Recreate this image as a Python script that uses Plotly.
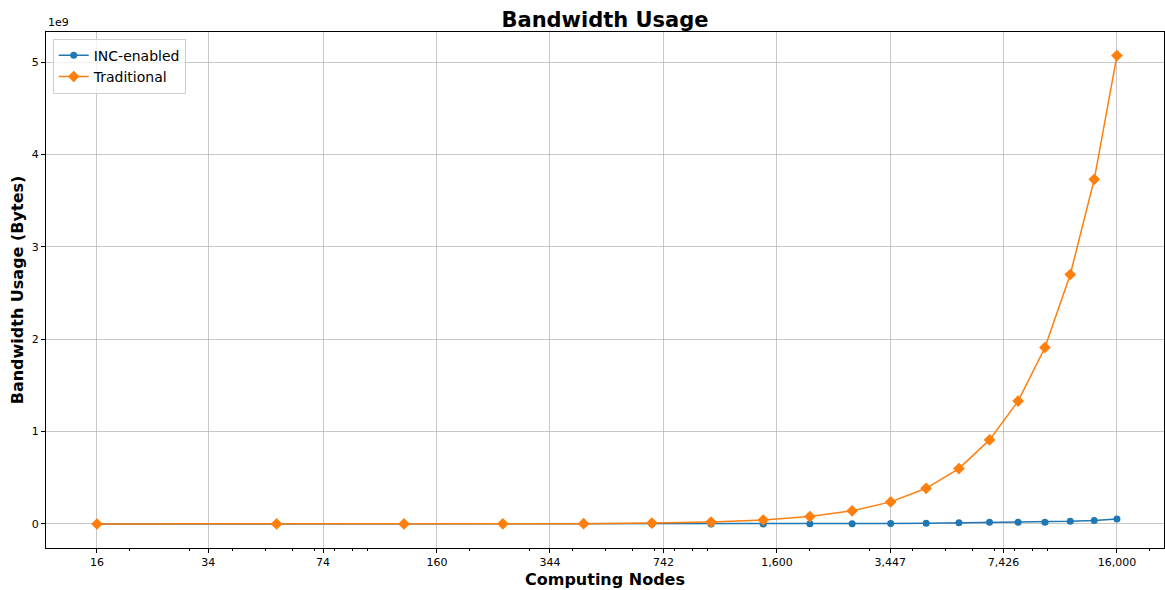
import plotly.graph_objects as go

nodes = [16, 54, 128, 250, 432, 686, 1024, 1458, 2000, 2662, 3456, 4394,
         5488, 6750, 8192, 9826, 11664, 13718, 16000]
inc_enabled = [3e2, 1.5e3, 8e3, 3e4, 9e4, 2.5e5, 5.5e5, 1.1e6, 2e6, 3.5e6, 5.5e6, 8.5e6,
               1.25e7, 1.8e7, 2.0e7, 2.0e7, 2.9e7, 3.9e7, 5.4e7]
traditional = [0.0, 0.06e6, 0.33e6, 1.25e6, 3.7e6, 9.4e6, 2.1e7, 4.3e7, 8.0e7, 1.42e8, 2.39e8,
               3.86e8, 6.0e8, 9.1e8, 1.33e9, 1.91e9, 2.70e9, 3.73e9, 5.07e9]

x_tickvals = [16, 34, 74, 160, 344, 742, 1600, 3447, 7426, 16000]
x_ticktext = ["16", "34", "74", "160", "344", "742", "1,600", "3,447", "7,426", "16,000"]
y_tickvals = [0, 1e9, 2e9, 3e9, 4e9, 5e9]
y_ticktext = ["0", "1", "2", "3", "4", "5"]

minor_vals = []
for dec in [10, 100, 1000, 10000]:
    for m in range(1, 10):
        v = m * dec
        if 11 < v < 22000:
            minor_vals.append(v)

font_family = "DejaVu Sans"
grid_col = "rgba(176,176,176,0.7)"

fig = go.Figure()
fig.add_trace(go.Scatter(
    x=nodes, y=inc_enabled, mode="lines+markers", name="INC-enabled",
    line=dict(color="#1f77b4", width=1.5),
    marker=dict(symbol="circle", size=7, color="#1f77b4"),
))
fig.add_trace(go.Scatter(
    x=nodes, y=traditional, mode="lines+markers", name="Traditional",
    line=dict(color="#ff7f0e", width=1.5),
    marker=dict(symbol="diamond", size=9, color="#ff7f0e"),
))

fig.update_layout(
    width=1165, height=590,
    margin=dict(l=46, r=1, t=32, b=42, autoexpand=False),
    paper_bgcolor="white", plot_bgcolor="white",
    font=dict(family=font_family, size=11, color="black"),
    title=dict(text="<b>Bandwidth Usage</b>", x=0.5, xref="paper", xanchor="center",
               y=1, yref="paper", yanchor="bottom", pad=dict(b=5),
               font=dict(size=21, family=font_family), automargin=False),
    showlegend=True,
    legend=dict(x=0.006, y=0.987, xanchor="left", yanchor="top",
                bgcolor="rgba(255,255,255,0.8)", bordercolor="#d0d0d0", borderwidth=1,
                font=dict(size=14, family=font_family), tracegroupgap=0,
                itemwidth=30),
)

fig.update_xaxes(
    type="log", range=[1.0542, 4.3425], automargin=False,
    tickmode="array", tickvals=x_tickvals, ticktext=x_ticktext,
    showgrid=True, gridcolor=grid_col, gridwidth=1,
    ticks="outside", ticklen=4, tickcolor="black",
    showline=True, linecolor="black", linewidth=1, mirror=True,
    zeroline=False,
    minor=dict(tickvals=minor_vals, ticks="outside", ticklen=2, tickcolor="black", showgrid=False),
    title=dict(text="<b>Computing Nodes</b>", font=dict(size=16, family=font_family), standoff=5),
)
fig.update_yaxes(
    range=[-0.26e9, 5.325e9], automargin=False,
    tickmode="array", tickvals=y_tickvals, ticktext=y_ticktext,
    showgrid=True, gridcolor=grid_col, gridwidth=1,
    ticks="outside", ticklen=4, tickcolor="black",
    showline=True, linecolor="black", linewidth=1, mirror=True,
    zeroline=False,
    title=dict(text="<b>Bandwidth Usage (Bytes)</b>", font=dict(size=16, family=font_family), standoff=4),
)

fig.add_annotation(text="1e9", xref="paper", yref="paper", x=0, y=1,
                   xanchor="left", yanchor="bottom", showarrow=False,
                   font=dict(size=11, family=font_family), yshift=1)

post = ("document.body.style.margin='0';document.body.style.padding='0';"
        "document.body.style.overflow='hidden';"
        "document.documentElement.style.overflow='hidden';"
        "Plotly.relayout('{plot_id}', {width:1165, height:590});")

fig.write_html("out.html", post_script=post, config={"displayModeBar": False})
